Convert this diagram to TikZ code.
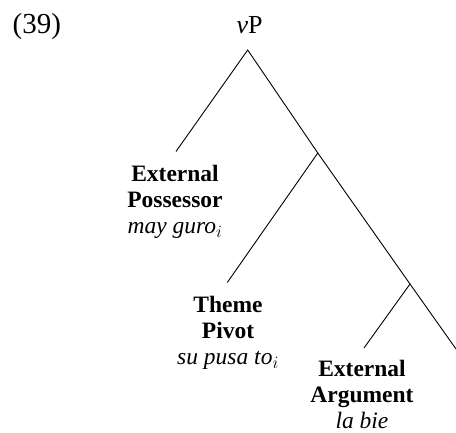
\documentclass[tikz,border=0pt]{standalone}
\usepackage{fontspec}
\setmainfont{Liberation Serif}
\begin{document}
\begin{tikzpicture}[x=1pt,y=-1pt,
  lbl/.style={anchor=base,inner sep=0pt,font=\fontsize{23.5}{25.7}\selectfont},
  edge/.style={line width=0.9pt}]
\useasboundingbox (0,0) rectangle (456,433);
\node[anchor=base west,inner sep=0pt,font=\fontsize{29}{32}\selectfont] (num) at (12.5,33.5) {(39)};
\node[anchor=base,inner sep=0pt,font=\fontsize{26}{30}\selectfont] (vp) at (249.5,33.5) {\textit{v}P};
\node[lbl] (ep) at (175,182) {\begin{tabular}[t]{@{}c@{}}\textbf{External}\\\textbf{Possessor}\\\textit{may guro}$_i$\end{tabular}};
\node[lbl] (tp) at (228,313) {\begin{tabular}[t]{@{}c@{}}\textbf{Theme}\\\textbf{Pivot}\\\textit{su pusa to}$_i$\end{tabular}};
\node[lbl] (ea) at (362,377) {\begin{tabular}[t]{@{}c@{}}\textbf{External}\\\textbf{Argument}\\\textit{la bie}\end{tabular}};
\coordinate (top) at (247.7,50);
\coordinate (j1) at (317.8,153);
\coordinate (j2) at (410,284);
\coordinate (l1) at (176,151.5);
\coordinate (l2) at (227.3,282.5);
\coordinate (l3) at (364,348);
\coordinate (r3) at (456,349);
\draw[edge] (l1) -- (top) -- (j1);
\draw[edge] (l2) -- (j1) -- (j2);
\draw[edge] (l3) -- (j2) -- (r3);
\end{tikzpicture}
\end{document}
